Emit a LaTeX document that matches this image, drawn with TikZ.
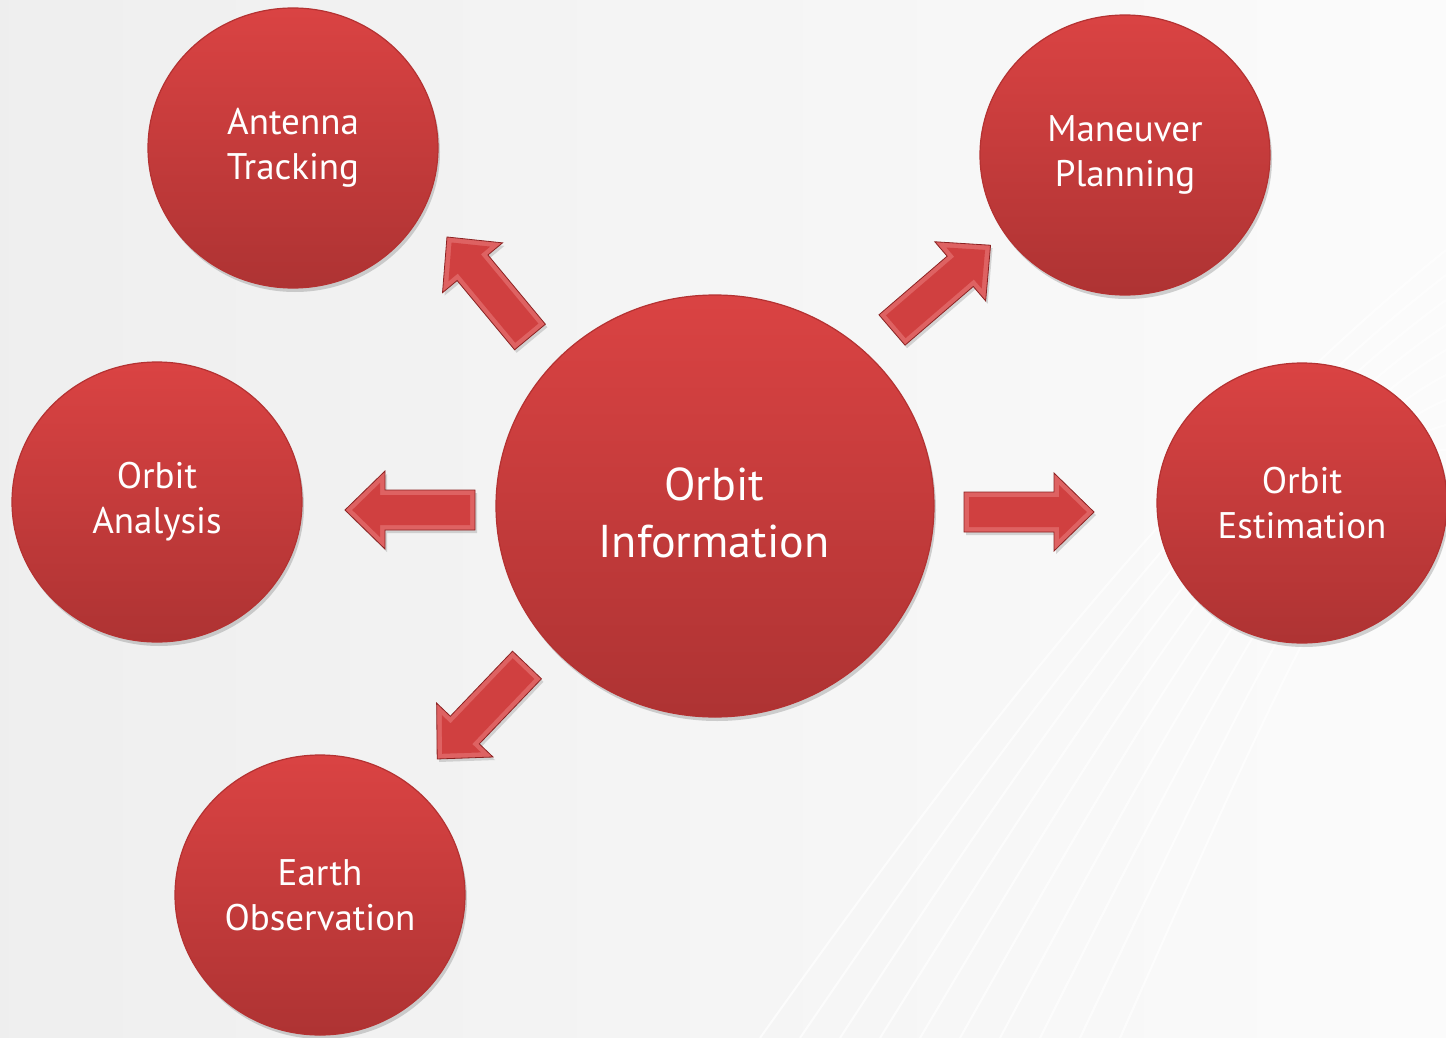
\documentclass[tikz,border=0pt]{standalone}
\usepackage{fontspec}
\setmainfont{PT Sans}
\usetikzlibrary{shapes.geometric,shadows}
\definecolor{ballTop}{RGB}{218,67,67}
\definecolor{ballBot}{RGB}{174,51,51}
\definecolor{ballEdge}{RGB}{180,50,50}
\definecolor{arrMain}{RGB}{208,64,64}
\definecolor{arrBevel}{RGB}{222,98,98}
\definecolor{arrEdge}{RGB}{140,34,34}
\newcommand\blockarr[2]{%
  \begin{scope}[shift={(#1)}, rotate=#2]
    \fill[arrBevel, draw=arrEdge, line width=0.8pt,
      drop shadow={opacity=0.3, shadow xshift=2pt, shadow yshift=-3pt}]
      (0,-20) -- (90,-20) -- (90,-39) -- (130,0) -- (90,39) -- (90,20) -- (0,20) -- cycle;
    \fill[arrMain] (5,-15) -- (95,-15) -- (95,-27.1) -- (122.8,0) -- (95,27.1) -- (95,15) -- (5,15) -- cycle;
  \end{scope}}
\begin{document}
\begin{tikzpicture}[x=1pt,y=-1pt,
  ball/.style={ellipse, inner sep=0pt, top color=ballTop, bottom color=ballBot,
    draw=ballEdge, line width=1.2pt, text=white, align=center,
    drop shadow={opacity=0.35, shadow xshift=2pt, shadow yshift=-4pt}},
  smallball/.style={ball, minimum width=290pt, minimum height=280pt,
    font=\fontsize{37}{45}\selectfont},
  bigball/.style={ball, minimum width=438pt, minimum height=422pt,
    font=\fontsize{46}{57}\selectfont}
]
\fill[left color=gray!13, right color=gray!3] (0,0) rectangle (1446,1038);
\useasboundingbox (0,0) rectangle (1446,1038);
% faint streaks
\foreach \k in {0,...,9}{
  \draw[white, opacity=0.7, line width=2pt]
    (760+40*\k,1038) .. controls (1000+30*\k,700) and (1200+20*\k,450) .. (1446,250+25*\k);
}
\node[bigball] (info) at (715,506) {};
\node[text=white, align=center, font=\fontsize{46}{57}\selectfont] (infotext) at (714,513) {Orbit\\Information};
\node[smallball] (ant) at (293,148) {Antenna\\Tracking};
\node[smallball] (man) at (1125,155) {Maneuver\\Planning};
\node[smallball] (ana) at (157,502) {Orbit\\Analysis};
\node[smallball] (est) at (1302,503) {Orbit\\Estimation};
\node[smallball] (earth) at (320,895) {Earth\\Observation};
% arrows (tail points)
\coordinate (aul) at (530,337);
\coordinate (aur) at (892,330);
\coordinate (al) at (475,510);
\coordinate (ar) at (964,512);
\coordinate (adl) at (527,665);
\blockarr{aul}{129.7}
\blockarr{aur}{40.7}
\blockarr{al}{180}
\blockarr{ar}{0}
\blockarr{adl}{226.3}
\end{tikzpicture}
\end{document}
